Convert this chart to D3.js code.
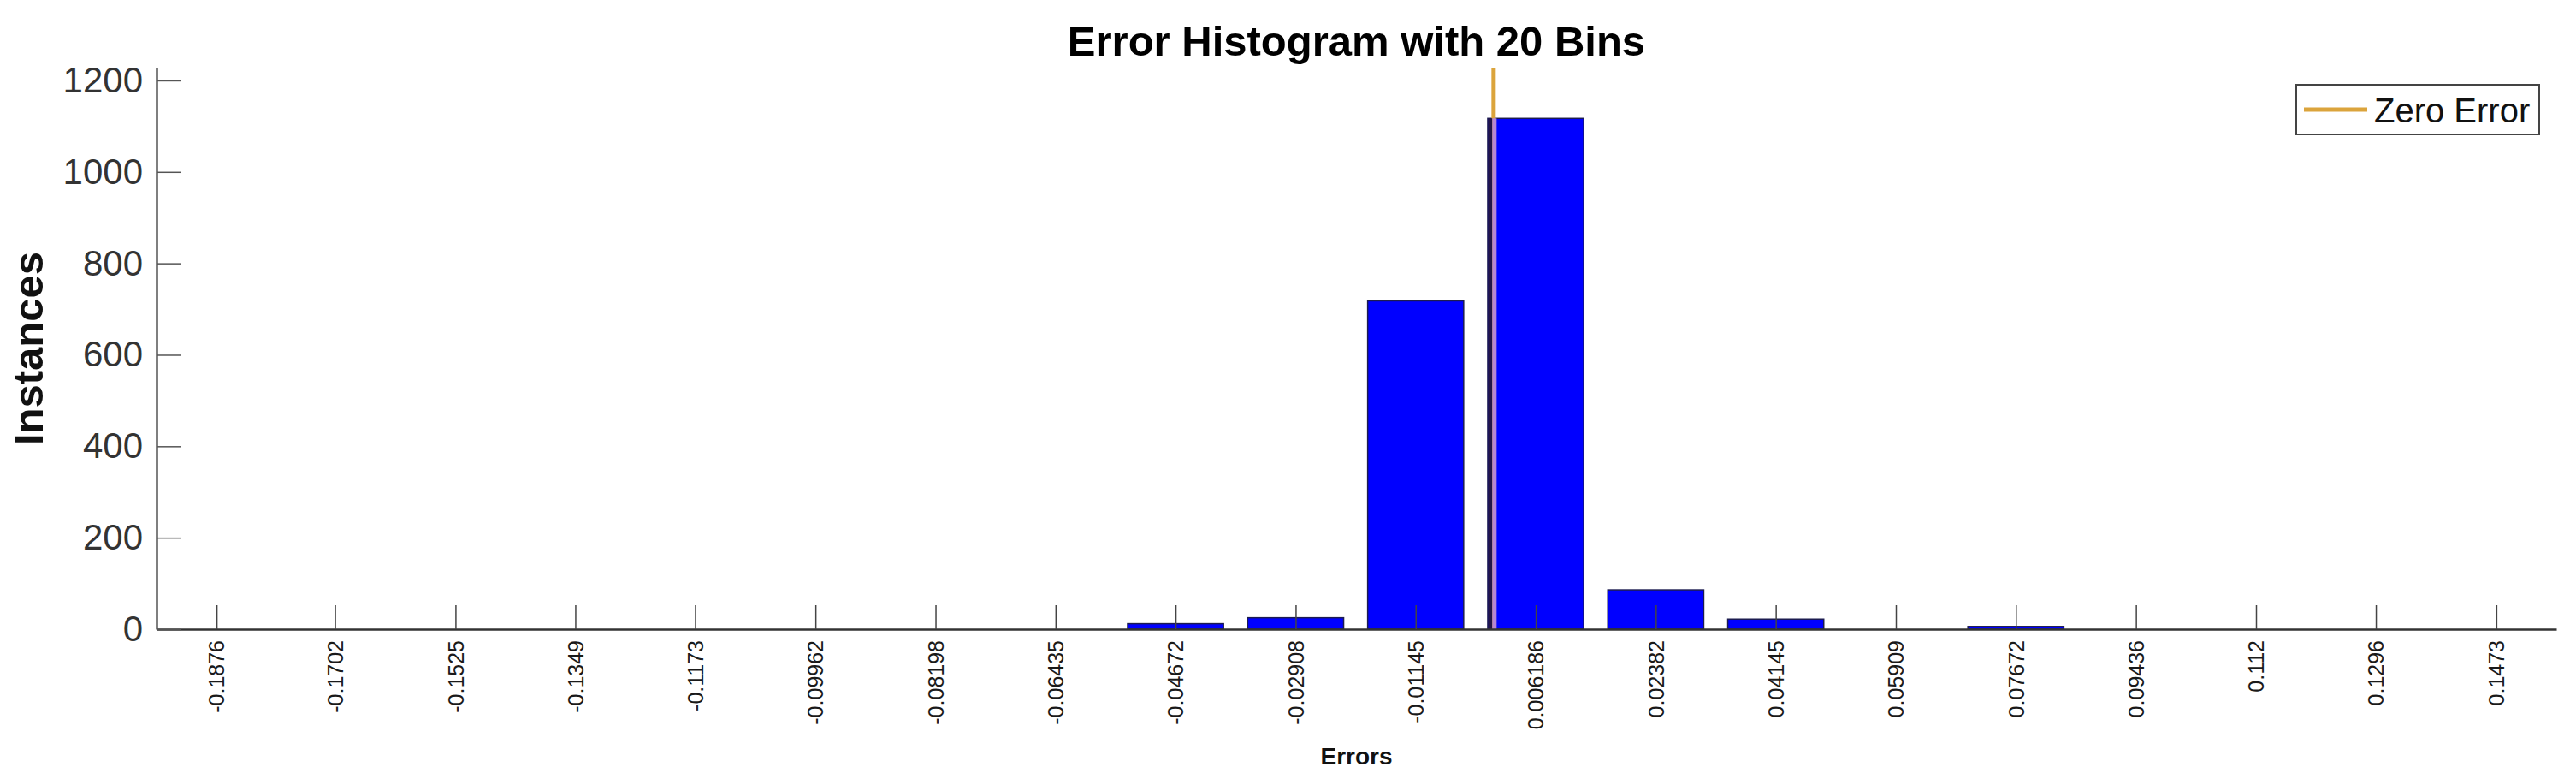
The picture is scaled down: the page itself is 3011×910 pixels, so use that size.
<!DOCTYPE html>
<html>
<head>
<meta charset="utf-8">
<script src="https://cdn.jsdelivr.net/npm/d3@7"></script>
<style>
  body { margin: 0; background: #fff; }
  text { font-family: "Liberation Sans", Arial, sans-serif; }
</style>
</head>
<body>
<svg width="3011" height="910"></svg>
<script>
// Error histogram, 20 bins
var binCenters = [-0.1876, -0.1702, -0.1525, -0.1349, -0.1173, -0.09962, -0.08198, -0.06435, -0.04672, -0.02908,
                  -0.01145, 0.006186, 0.02382, 0.04145, 0.05909, 0.07672, 0.09436, 0.112, 0.1296, 0.1473];
var tickLabels = ['-0.1876', '-0.1702', '-0.1525', '-0.1349', '-0.1173', '-0.09962', '-0.08198', '-0.06435', '-0.04672', '-0.02908',
                  '-0.01145', '0.006186', '0.02382', '0.04145', '0.05909', '0.07672', '0.09436', '0.112', '0.1296', '0.1473'];
var counts = [0, 0, 0, 0, 0, 0, 0, 0, 12, 25, 718, 1117, 86, 22, 0, 6, 0, 0, 0, 0];
var yTicks = [0, 200, 400, 600, 800, 1000, 1200];
var yMax = 1228;
var zeroError = 0;

var svg = d3.select('svg');
var margin = {top: 79, right: 23, bottom: 175, left: 183};
var width = 3011 - margin.left - margin.right;
var height = 910 - margin.top - margin.bottom;

// bin width from the centers, the axis runs half a bin past each end
var binW = (binCenters[binCenters.length - 1] - binCenters[0]) / (binCenters.length - 1);
var x = d3.scaleLinear()
  .domain([binCenters[0] - binW / 2, binCenters[binCenters.length - 1] + binW / 2])
  .range([0, width]);
var y = d3.scaleLinear().domain([0, yMax]).range([height, 0]);
var barW = (x(binW) - x(0)) * 0.8;

var g = svg.append('g')
  .attr('transform', 'translate(' + margin.left + ',' + margin.top + ')');

// bars
g.selectAll('.bar')
  .data(counts)
  .enter().append('rect')
  .attr('class', 'bar')
  .attr('x', function(d, i) { return x(binCenters[i]) - barW / 2; })
  .attr('y', function(d) { return y(d); })
  .attr('width', barW)
  .attr('height', function(d) { return height - y(d); })
  .style('fill', '#0000ff')
  .style('stroke', '#1c1c50')
  .style('stroke-width', 1.5);

// zero error line, tinted where it crosses the bar
var zeroBin = d3.bisectLeft(binCenters.map(function(c) { return c + binW / 2; }), zeroError);
g.append('line')
  .attr('x1', x(zeroError)).attr('x2', x(zeroError))
  .attr('y1', y(0)).attr('y2', y(yMax))
  .style('stroke', '#dba43c')
  .style('stroke-width', 5);
g.append('line')
  .attr('x1', x(zeroError) - 4).attr('x2', x(zeroError) - 4)
  .attr('y1', y(0)).attr('y2', y(counts[zeroBin]))
  .style('stroke', '#22154a')
  .style('stroke-width', 5);
g.append('line')
  .attr('x1', x(zeroError) + 1).attr('x2', x(zeroError) + 1)
  .attr('y1', y(0)).attr('y2', y(counts[zeroBin]))
  .style('stroke', '#b585d2')
  .style('stroke-width', 5);

// x axis, ticks inward at bin centers
var xAxis = d3.axisBottom(x)
  .tickValues(binCenters)
  .tickFormat(function(d, i) { return tickLabels[i]; })
  .tickSizeInner(-28)
  .tickSizeOuter(0);

var gx = g.append('g')
  .attr('class', 'axis axis--x')
  .attr('transform', 'translate(0,' + height + ')')
  .call(xAxis);
gx.select('.domain').style('stroke', '#333').style('stroke-width', 2.5);
gx.selectAll('.tick line').style('stroke', '#444').style('stroke-width', 1.5);
gx.selectAll('.tick text')
  .attr('transform', 'rotate(-90)')
  .attr('x', -13)
  .attr('y', 0)
  .attr('dy', '0.35em')
  .style('text-anchor', 'end')
  .style('font-size', '25px')
  .style('fill', '#1a1a1a');

// y axis, ticks inward
var yAxis = d3.axisLeft(y)
  .tickValues(yTicks)
  .tickFormat(d3.format('d'))
  .tickSizeInner(-29)
  .tickSizeOuter(0)
  .tickPadding(16);

var gy = g.append('g')
  .attr('class', 'axis axis--y')
  .call(yAxis);
gy.select('.domain').style('stroke', '#555').style('stroke-width', 2.5);
gy.selectAll('.tick line').style('stroke', '#555').style('stroke-width', 1.5);
gy.selectAll('.tick text')
  .style('font-size', '42px')
  .style('fill', '#333');

// titles
svg.append('text')
  .attr('x', margin.left + width / 2)
  .attr('y', 65)
  .style('text-anchor', 'middle')
  .style('font-size', '49px')
  .style('font-weight', 'bold')
  .style('fill', '#000')
  .text('Error Histogram with 20 Bins');

svg.append('text')
  .attr('x', margin.left + width / 2)
  .attr('y', 893)
  .style('text-anchor', 'middle')
  .style('font-size', '28px')
  .style('font-weight', 'bold')
  .style('fill', '#111')
  .text('Errors');

svg.append('text')
  .attr('transform', 'translate(50,' + (margin.top + height / 2) + ') rotate(-90)')
  .style('text-anchor', 'middle')
  .style('font-size', '49px')
  .style('font-weight', 'bold')
  .style('fill', '#111')
  .text('Instances');

// legend
var legend = svg.append('g').attr('transform', 'translate(2684,99)');
legend.append('rect')
  .attr('width', 284).attr('height', 58)
  .style('fill', '#fff')
  .style('stroke', '#444')
  .style('stroke-width', 2);
legend.append('line')
  .attr('x1', 9).attr('x2', 83).attr('y1', 29).attr('y2', 29)
  .style('stroke', '#dba43c')
  .style('stroke-width', 5);
legend.append('text')
  .attr('x', 91).attr('y', 44)
  .style('font-size', '40px')
  .style('fill', '#111')
  .text('Zero Error');
</script>
</body>
</html>
